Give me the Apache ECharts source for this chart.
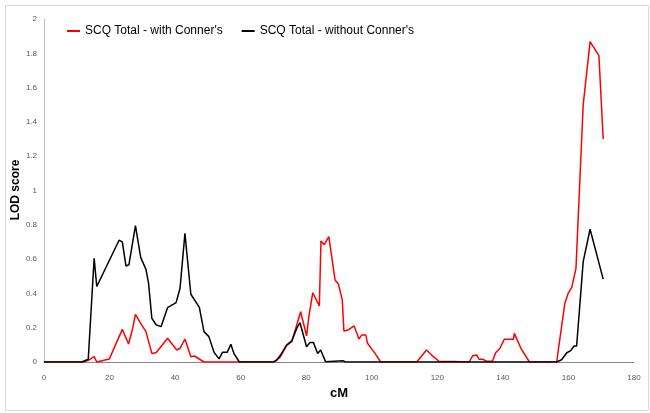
<!DOCTYPE html>
<html>
<head>
<meta charset="utf-8">
<script src="https://cdn.jsdelivr.net/npm/echarts@6/dist/echarts.min.js"></script>
<style>html,body{margin:0;padding:0;background:#fff;}#c{width:650px;height:413px;}</style>
</head>
<body>
<div id="c"></div>
<script>
const seriesNames = ["SCQ Total - with Conner's", "SCQ Total - without Conner's"];
const xTitle = 'cM';
const yTitle = 'LOD score';
const xTicks = [0, 20, 40, 60, 80, 100, 120, 140, 160, 180];
const yTicks = [0, 0.2, 0.4, 0.6, 0.8, 1, 1.2, 1.4, 1.6, 1.8, 2];

const redCM = [0, 12.0, 13.5, 15.3, 16.1, 19.9, 23.9, 25.8, 27.1, 27.9, 29.5, 31.1, 32.9, 34.2, 37.7, 40.5, 41.5, 43.0, 44.8, 45.9, 48.8,
  70.0, 72.0, 74.0, 75.6, 78.3, 80.1, 80.8, 82.0, 84.0, 84.5, 85.5, 86.9, 88.8, 89.8, 91.0, 91.5, 92.8, 94.6, 96.1, 96.9, 98.2, 98.7, 101.0, 102.7,
  113.7, 116.7, 118.8, 120.6, 124.9, 125.4, 129.7, 130.8, 132.0, 132.7, 133.8, 135.2, 136.8, 137.8, 139.1, 140.4, 143.2, 143.5, 145.5, 148.1,
  156.4, 158.9, 159.9, 161.0, 162.3, 164.5, 166.6, 169.3, 170.6];
const redLOD = [0, 0, 0.01, 0.031, 0, 0.017, 0.19, 0.105, 0.2, 0.278, 0.225, 0.177, 0.05, 0.054, 0.138, 0.07, 0.08, 0.134, 0.031, 0.035, 0,
  0, 0.027, 0.095, 0.118, 0.293, 0.152, 0.264, 0.404, 0.327, 0.706, 0.684, 0.731, 0.478, 0.455, 0.362, 0.181, 0.187, 0.21, 0.134, 0.157, 0.157, 0.109, 0.05, 0,
  0, 0.07, 0.031, 0.003, 0.003, 0, 0, 0.037, 0.041, 0.016, 0.016, 0.004, 0.004, 0.054, 0.08, 0.132, 0.132, 0.167, 0.08, 0,
  0, 0.342, 0.40, 0.435, 0.546, 1.499, 1.868, 1.786, 1.30];

const blackCM = [0, 11.5, 13.5, 15.3, 16.1, 22.9, 23.9, 25.0, 25.9, 27.9, 29.5, 31.1, 31.9, 32.9, 34.2, 35.7, 37.7, 40.3, 41.5, 43.0, 44.8, 47.4, 48.8, 50.3, 51.9, 53.4, 54.5, 55.9, 57.0, 58.0, 59.6,
  70.0, 71.0, 72.5, 74.0, 75.6, 77.1, 78.1, 80.1, 81.1, 82.2, 83.5, 84.4, 85.9, 91.3, 92.0,
  156.4, 157.9, 159.5, 160.7, 161.7, 162.5, 164.5, 166.6, 170.6];
const blackLOD = [0, 0, 0.016, 0.605, 0.44, 0.71, 0.70, 0.56, 0.567, 0.795, 0.61, 0.54, 0.46, 0.255, 0.217, 0.206, 0.317, 0.346, 0.43, 0.75, 0.395, 0.319, 0.177, 0.148, 0.056, 0.018, 0.057, 0.057, 0.103, 0.047, 0,
  0, 0.01, 0.05, 0.099, 0.124, 0.196, 0.229, 0.089, 0.113, 0.113, 0.05, 0.07, 0.002, 0.007, 0,
  0, 0.013, 0.054, 0.066, 0.093, 0.093, 0.585, 0.774, 0.483];

const pairs = (xs, ys) => xs.map((x, i) => [x, ys[i]]);
const font = "Liberation Sans, Arial, sans-serif";

const chart = echarts.init(document.getElementById('c'), null, {renderer: 'canvas'});
chart.setOption({
  animation: false,
  backgroundColor: '#ffffff',
  graphic: [{
    type: 'rect', left: 3, top: 3, z: -1,
    shape: {width: 643, height: 405},
    style: {fill: 'none', stroke: '#d9d9d9', lineWidth: 1}
  }, {
    type: 'text', x: 16, y: 190, rotation: Math.PI / 2,
    style: {text: yTitle, font: 'bold 12px ' + font, fill: '#000', align: 'center', verticalAlign: 'middle'}
  }],
  grid: {left: 44, right: 16, top: 19, bottom: 51, containLabel: false, outerBoundsMode: 'none'},
  legend: {
    left: 62, top: 20,
    icon: 'rect', itemWidth: 13, itemHeight: 2, itemGap: 19,
    textStyle: {fontFamily: font, fontSize: 12, color: '#000'},
    data: seriesNames
  },
  xAxis: {
    type: 'value', min: xTicks[0], max: xTicks[xTicks.length - 1], interval: 20,
    name: xTitle, nameLocation: 'middle', nameGap: 24,
    nameTextStyle: {fontFamily: font, fontSize: 13, fontWeight: 'bold', color: '#000'},
    axisLine: {show: true, lineStyle: {color: '#868686', width: 1}},
    axisTick: {show: false},
    splitLine: {show: false},
    axisLabel: {fontFamily: font, fontSize: 8, color: '#595959', margin: 12}
  },
  yAxis: {
    type: 'value', min: yTicks[0], max: yTicks[yTicks.length - 1], interval: 0.2,
    axisLine: {show: true, lineStyle: {color: '#bfbfbf', width: 1}},
    axisTick: {show: false},
    splitLine: {show: false},
    axisLabel: {fontFamily: font, fontSize: 8, color: '#595959', margin: 7,
      formatter: v => String(Math.round(v * 10) / 10)}
  },
  series: [
    {name: seriesNames[0], type: 'line', data: pairs(redCM, redLOD), showSymbol: false, symbol: 'none',
     lineStyle: {color: '#ff0000', width: 1.5}, itemStyle: {color: '#ff0000'}, z: 2},
    {name: seriesNames[1], type: 'line', data: pairs(blackCM, blackLOD), showSymbol: false, symbol: 'none',
     lineStyle: {color: '#000000', width: 1.5}, itemStyle: {color: '#000000'}, z: 3}
  ]
});
</script>
</body>
</html>
